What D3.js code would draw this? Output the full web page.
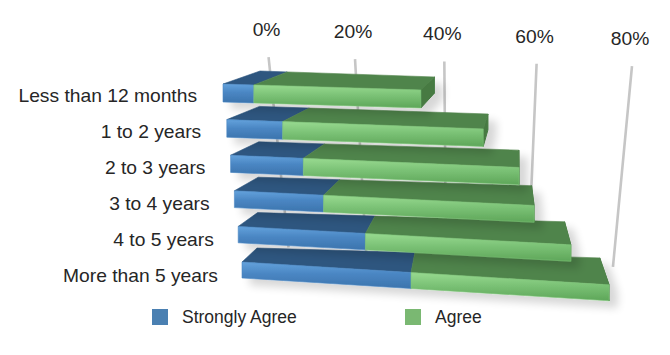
<!DOCTYPE html>
<html><head><meta charset="utf-8">
<script src="https://cdn.jsdelivr.net/npm/d3@7"></script>
<style>body{margin:0;background:#fff} svg{display:block}</style>
</head><body>
<svg id="c" width="670" height="355"></svg>
<script>
// ---- data ----
const categories = ["Less than 12 months","1 to 2 years","2 to 3 years","3 to 4 years","4 to 5 years","More than 5 years"];
const stronglyAgree = [6, 11, 14.5, 18, 26, 35];
const agree = [32.5, 39.5, 43, 42.5, 42, 41];
const tickValues = [0, 20, 40, 60, 80];
const tickLabels = ["0%", "20%", "40%", "60%", "80%"];
const seriesNames = ["Strongly Agree", "Agree"];

// ---- styles ----
const palette = [
  {front:["#63a2dc","#4a86c3","#3c74ad"], top:"#2d567f", cap:"#2a4f75", legend:"#4a80b2"},
  {front:["#98da90","#7bc276","#5ea659"], top:"#50844b", cap:"#467a42", legend:"#7ab872"}
];
const FONT = "'Liberation Sans', Arial, Helvetica, sans-serif";
const svg = d3.select("#c");
const defs = svg.append("defs");
palette.forEach((p, i) => {
  const g = defs.append("linearGradient").attr("id", "fg" + i)
    .attr("x1", 0).attr("y1", 0).attr("x2", 0).attr("y2", 1);
  g.append("stop").attr("offset", 0).attr("stop-color", p.front[0]);
  g.append("stop").attr("offset", 0.45).attr("stop-color", p.front[1]);
  g.append("stop").attr("offset", 1).attr("stop-color", p.front[2]);
});
const sh = defs.append("filter").attr("id", "shadow").attr("x", "-20%").attr("y", "-50%").attr("width", "140%").attr("height", "200%");
sh.append("feGaussianBlur").attr("in", "SourceAlpha").attr("stdDeviation", 4).attr("result", "b");
sh.append("feOffset").attr("in", "b").attr("dx", 8).attr("dy", 7).attr("result", "o");
sh.append("feComponentTransfer").attr("in", "o").attr("result", "s")
  .append("feFuncA").attr("type", "linear").attr("slope", 0.16);
const mg = sh.append("feMerge");
mg.append("feMergeNode").attr("in", "s");
mg.append("feMergeNode").attr("in", "SourceGraphic");

const n = categories.length;
const rowT = d3.scaleLinear().domain([0, n - 1]).range([0, 1]);

// ---- perspective wall (gridlines) ----
const kScale = d3.scaleLinear().domain([0, 80]).range([0, 0.0745]);
const wallH = d3.scaleLinear().domain([0, 1]).range([0, 0.137]);
function wall(v, h) {
  const k = kScale(v), w = wallH(h);
  const W = 1.175 - k + w;
  return [(315.56 + 5100 * k + 460 * w) / W, (67 + 77 * k + 1880 * w) / W];
}
const gridG = svg.append("g");
tickValues.forEach((v, i) => {
  const pts = d3.range(0, 1.0001, 0.1).map(h => wall(v, h));
  gridG.append("path").attr("d", d3.line()(pts))
    .attr("fill", "none").attr("stroke", "#c6c6c6").attr("stroke-width", 2.6);
  const top = wall(v, 0);
  gridG.append("text")
    .attr("transform", `translate(${top[0] - 2},${top[1] - 21}) scale(1.1,1)`)
    .attr("text-anchor", "middle").attr("font-family", FONT).attr("font-size", 17.5)
    .attr("fill", "#262626").text(tickLabels[i]);
});

// ---- bar projection (per row scales) ----
const frontX0 = d3.scaleLinear().range([223, 242]);
const frontY0 = d3.scaleLinear().range([84, 262]);
const frontK = d3.scaleLinear().range([5.14, 4.83]);
const frontSlope = d3.scaleLinear().range([0.155, 0.30]);
const frontH = d3.scaleLinear().range([18, 16]);
const backX0 = d3.scaleLinear().range([260, 257]);
const backY0 = d3.scaleLinear().range([71, 248]);
const backK = d3.scaleLinear().range([4.53, 4.51]);
const backSlope = d3.scaleLinear().range([0.155, 0.13]);
const labelRight = d3.scaleLinear().range([197, 218]);

const rowsG = svg.append("g");
// draw bottom row first so upper rows overlap it
d3.range(n - 1, -1, -1).forEach(i => {
  const t = rowT(i);
  const xF = d3.scaleLinear().domain([0, 100]).range([frontX0(t), frontX0(t) + 100 * frontK(t)]);
  const yF = d3.scaleLinear().domain([0, 100]).range([frontY0(t), frontY0(t) + 100 * frontSlope(t)]);
  const xB = d3.scaleLinear().domain([0, 100]).range([backX0(t), backX0(t) + 100 * backK(t)]);
  const yB = d3.scaleLinear().domain([0, 100]).range([backY0(t), backY0(t) + 100 * backSlope(t)]);
  const h = frontH(t), hb = h * 0.9;
  const FT = v => [xF(v), yF(v)], FB = v => [xF(v), yF(v) + h];
  const BT = v => [xB(v), yB(v)], BB = v => [xB(v), yB(v) + hb];
  const poly = p => "M" + p.map(q => q.join(",")).join("L") + "Z";

  const segs = [
    {s: 0, v0: 0, v1: stronglyAgree[i]},
    {s: 1, v0: stronglyAgree[i], v1: stronglyAgree[i] + agree[i]}
  ];
  const g = rowsG.append("g").attr("filter", "url(#shadow)");
  const end = segs[1].v1;
  // right end cap
  g.append("path").attr("d", poly([FT(end), BT(end), BB(end), FB(end)]))
    .attr("fill", palette[1].cap).attr("stroke", palette[1].cap).attr("stroke-width", 1).attr("stroke-linejoin", "round");
  segs.forEach(d => {
    g.append("path").attr("d", poly([FT(d.v0), FT(d.v1), BT(d.v1), BT(d.v0)]))
      .attr("fill", palette[d.s].top).attr("stroke", palette[d.s].top).attr("stroke-width", 0.6).attr("stroke-linejoin", "round");
  });
  segs.forEach(d => {
    g.append("path").attr("d", poly([FT(d.v0), FT(d.v1), FB(d.v1), FB(d.v0)]))
      .attr("fill", `url(#fg${d.s})`).attr("stroke", palette[d.s].front[1]).attr("stroke-width", 0.6).attr("stroke-linejoin", "round");
  });
  // category label
  svg.append("text")
    .attr("transform", `translate(${labelRight(t)},${frontY0(t) + 12 + 2 * t}) scale(1.1,1)`)
    .attr("text-anchor", "end").attr("dy", "0.35em")
    .attr("font-family", FONT).attr("font-size", 17.5).attr("fill", "#262626")
    .text(categories[i]);
});

// ---- legend ----
const legX = d3.scaleOrdinal().domain(seriesNames).range([152, 405]);
const leg = svg.append("g");
seriesNames.forEach((name, s) => {
  leg.append("rect").attr("x", legX(name)).attr("y", 309).attr("width", 16).attr("height", 16)
    .attr("fill", palette[s].legend);
  leg.append("text").attr("x", legX(name) + 30).attr("y", 317).attr("dy", "0.35em")
    .attr("font-family", FONT).attr("font-size", 17.5).attr("fill", "#262626").text(name);
});
</script>
</body></html>
